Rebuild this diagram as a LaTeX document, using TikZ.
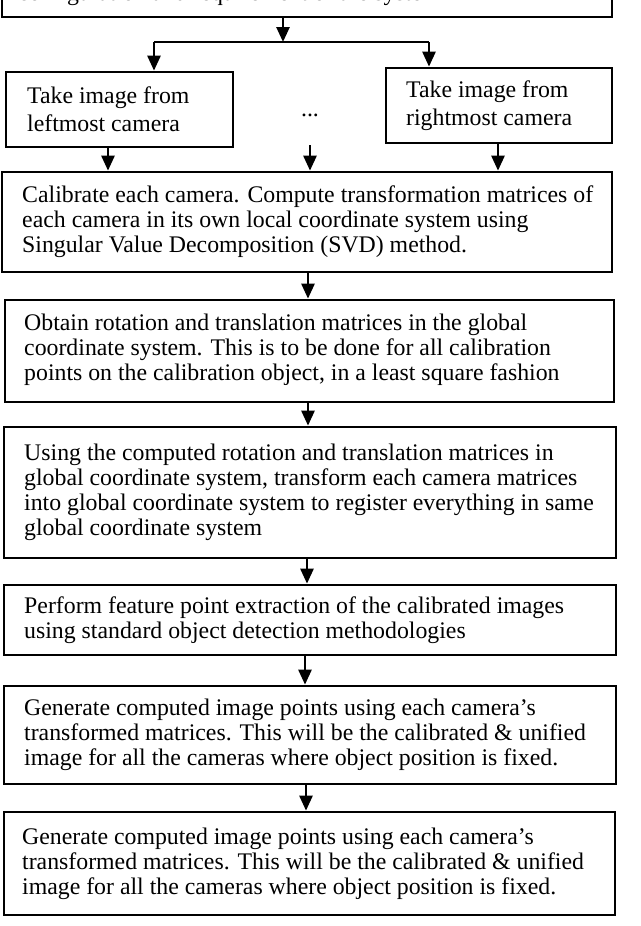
\documentclass[tikz,border=0pt]{standalone}
\usepackage{fontspec}
\setmainfont{Liberation Serif}
\usetikzlibrary{arrows.meta}
\begin{document}
\begin{tikzpicture}[x=1pt,y=-1pt,
  box/.style={draw, line width=2.7pt, inner sep=0pt},
  txt/.style={anchor=west, align=left, inner sep=0pt, font=\fontsize{23.8}{25}\selectfont},
  stxt/.style={anchor=west, align=left, inner sep=0pt, font=\fontsize{23.8}{28}\selectfont},
  arr/.style={line width=2.6pt, -{Triangle[length=15pt,width=13pt]}},
  plain/.style={line width=2.6pt}
]
\useasboundingbox (0,0) rectangle (640,926);
\clip (0,0) rectangle (640,926);
% boxes
\node[box, minimum width=610pt, minimum height=77pt] (T) at (307,-21.5) {};
\node[box, minimum width=227pt, minimum height=75pt] (L) at (119.5,109.5) {};
\node[box, minimum width=226pt, minimum height=75pt] (R) at (499,105.5) {};
\node[box, minimum width=610pt, minimum height=100pt] (C) at (307,222) {};
\node[box, minimum width=609pt, minimum height=102pt] (B3) at (309.5,351) {};
\node[box, minimum width=612pt, minimum height=131pt] (B4) at (310,492.5) {};
\node[box, minimum width=612pt, minimum height=70pt] (B5) at (310,620) {};
\node[box, minimum width=612pt, minimum height=98pt] (B6) at (310,735) {};
\node[box, minimum width=611pt, minimum height=103pt] (B7) at (309.5,863.5) {};
% texts
\node[anchor=base west, inner sep=0pt, font=\fontsize{23.8}{25}\selectfont] (Tt) at (18,1) {configuration and requirement of the system};
\node[stxt] (Lt) at (27,109.5) {Take image from\\leftmost camera};
\node[stxt] (Rt) at (406,105.5) {Take image from\\rightmost camera};
\node[anchor=base, inner sep=0pt, font=\fontsize{23.8}{25}\selectfont] (dots) at (310,116) {...};
\node[txt] (Ct) at (22,222) {Calibrate each camera. Compute transformation matrices of\\each camera in its own local coordinate system using\\Singular Value Decomposition (SVD) method.};
\node[txt] (B3t) at (24,350) {Obtain rotation and translation matrices in the global\\coordinate system. This is to be done for all calibration\\points on the calibration object, in a least square fashion};
\node[txt] (B4t) at (24,492.5) {Using the computed rotation and translation matrices in\\global coordinate system, transform each camera matrices\\into global coordinate system to register everything in same\\global coordinate system};
\node[txt] (B5t) at (24,620) {Perform feature point extraction of the calibrated images\\using standard object detection methodologies};
\node[txt] (B6t) at (24,735) {Generate computed image points using each camera’s\\transformed matrices. This will be the calibrated \& unified\\image for all the cameras where object position is fixed.};
\node[txt] (B7t) at (22,863.5) {Generate computed image points using each camera’s\\transformed matrices. This will be the calibrated \& unified\\image for all the cameras where object position is fixed.};
% connectors
\coordinate (jt) at (283,42);
\coordinate (jl) at (154,42);
\coordinate (jr) at (429,42);
\draw[arr] (T.south -| jt) -- (jt);
\draw[plain] (jl) -- (jr);
\draw[arr] (jl) -- (jl |- L.north);
\draw[arr] (jr) -- (jr |- R.north);
\coordinate (lo) at (108,0);
\coordinate (mo) at (310,145);
\coordinate (ro) at (498,0);
\draw[arr] (L.south -| lo) -- (C.north -| lo);
\draw[arr] (mo) -- (C.north -| mo);
\draw[arr] (R.south -| ro) -- (C.north -| ro);
\coordinate (a1) at (308,0);
\coordinate (a2) at (308,0);
\coordinate (a3) at (307,0);
\coordinate (a4) at (305,0);
\coordinate (a5) at (306,0);
\draw[arr] (C.south -| a1) -- (B3.north -| a1);
\draw[arr] (B3.south -| a2) -- (B4.north -| a2);
\draw[arr] (B4.south -| a3) -- (B5.north -| a3);
\draw[arr] (B5.south -| a4) -- (B6.north -| a4);
\draw[arr] (B6.south -| a5) -- (B7.north -| a5);
\end{tikzpicture}
\end{document}
